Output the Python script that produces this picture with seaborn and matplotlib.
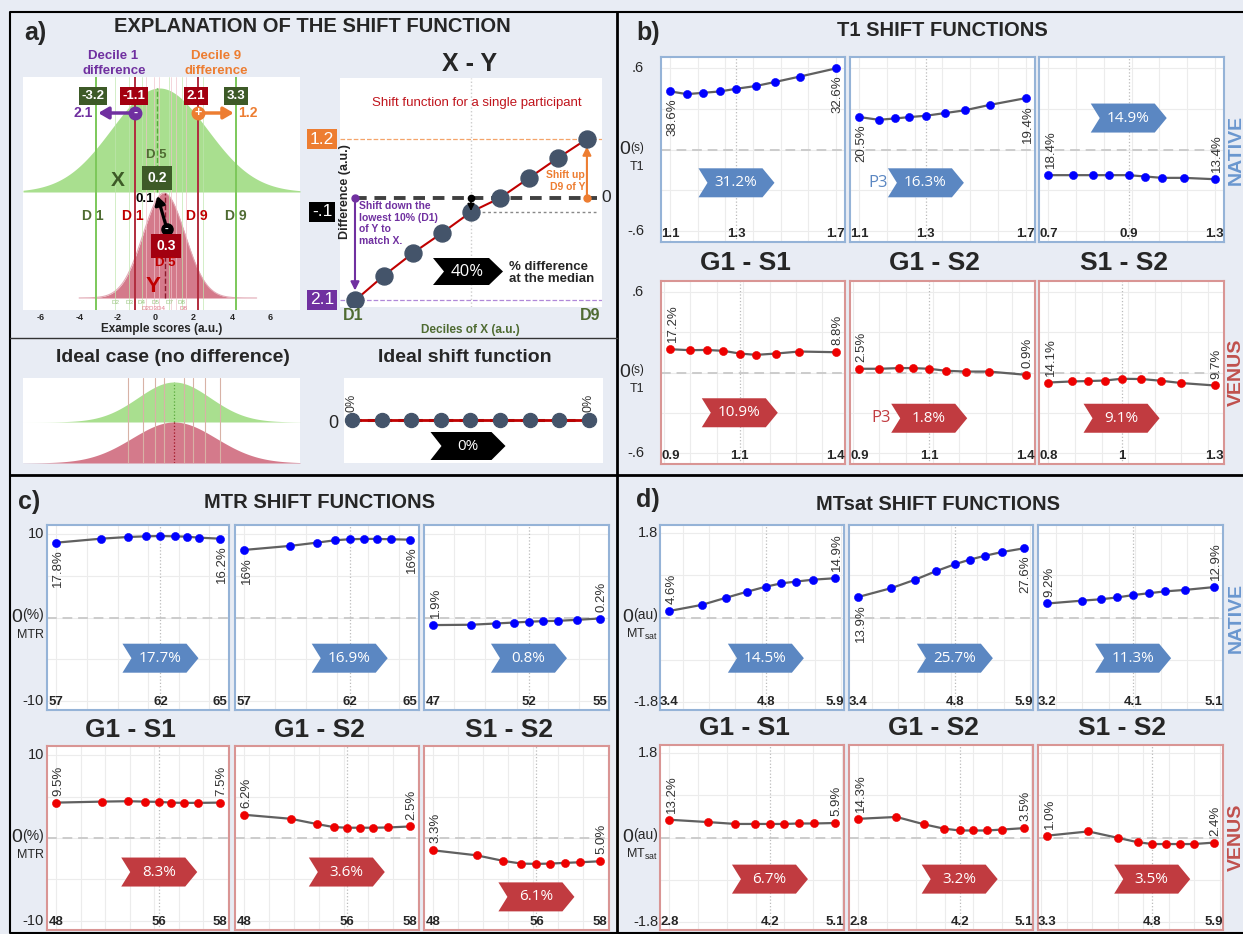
import numpy as np
import matplotlib
matplotlib.use("Agg")
import matplotlib.pyplot as plt
import matplotlib.transforms as mtrans
from matplotlib.patches import Polygon
from matplotlib.lines import Line2D
from matplotlib.ticker import MaxNLocator
import seaborn as sns

sns.set_style("white")
plt.rcParams['font.family'] = ['Liberation Sans', 'DejaVu Sans']
plt.rcParams['mathtext.fontset'] = 'custom'
plt.rcParams['mathtext.rm'] = 'Liberation Sans'
plt.rcParams['axes.unicode_minus'] = False

#--------------------------------------------------------------------------------------------------
# panel a (schematic)
X_MEAN, X_SD = 0.2, 2.5
Y_MEAN, Y_SD = 0.45, 1.1
X_DECILES = [-3.1, -2.1, -1.4, -0.7, 0.1, 0.7, 1.4, 2.5, 4.2]
Y_DECILES = [-1.05, -0.5, -0.1, 0.2, 0.5, 0.8, 1.1, 1.6, 2.25]
DECILE_IDX = [1, 2, 3, 4, 5, 6, 7, 8, 9]
SHIFT_VALUES = [-2.05, -1.55, -1.1, -0.7, -0.28, 0.0, 0.4, 0.8, 1.18]
IDEAL_SHIFT = [0, 0, 0, 0, 0, 0, 0, 0, 0]
IDEAL_DECILES = [-2.4, -1.6, -1.0, -0.5, 0.0, 0.5, 1.0, 1.6, 2.4]
IDEAL_SD_X, IDEAL_SD_Y = 1.9, 2.2

# panel b: T1
T1_NATIVE_X = [[1.10, 1.16, 1.22, 1.28, 1.34, 1.41, 1.48, 1.57, 1.70],
               [1.10, 1.17, 1.23, 1.28, 1.34, 1.41, 1.48, 1.57, 1.70],
               [0.70, 0.79, 0.86, 0.92, 0.99, 1.05, 1.11, 1.19, 1.30]]
T1_NATIVE_DIFF = [[0.43, 0.41, 0.42, 0.43, 0.45, 0.47, 0.50, 0.54, 0.60],
                  [0.24, 0.22, 0.23, 0.24, 0.25, 0.27, 0.29, 0.33, 0.38],
                  [-0.19, -0.19, -0.19, -0.19, -0.19, -0.20, -0.21, -0.21, -0.22]]
T1_NATIVE_END = [("38.6%", "32.6%"), ("20.5%", "19.4%"), ("18.4%", "13.4%")]
T1_NATIVE_MED = ["31.2%", "16.3%", "14.9%"]
T1_NATIVE_TICKS = [("1.1", "1.3", "1.7"), ("1.1", "1.3", "1.7"), ("0.7", "0.9", "1.3")]

T1_VENUS_X = [[0.90, 0.96, 1.01, 1.06, 1.11, 1.16, 1.22, 1.29, 1.40],
              [0.90, 0.96, 1.02, 1.06, 1.11, 1.16, 1.22, 1.29, 1.40],
              [0.80, 0.87, 0.92, 0.97, 1.02, 1.08, 1.14, 1.20, 1.30]]
T1_VENUS_DIFF = [[0.174, 0.167, 0.169, 0.162, 0.142, 0.132, 0.142, 0.157, 0.152],
                 [0.028, 0.028, 0.033, 0.033, 0.028, 0.013, 0.007, 0.007, -0.017],
                 [-0.075, -0.067, -0.064, -0.060, -0.047, -0.049, -0.062, -0.079, -0.097]]
T1_VENUS_END = [("17.2%", "8.8%"), ("2.5%", "0.9%"), ("14.1%", "9.7%")]
T1_VENUS_MED = ["10.9%", "1.8%", "9.1%"]
T1_VENUS_TICKS = [("0.9", "1.1", "1.4"), ("0.9", "1.1", "1.4"), ("0.8", "1", "1.3")]

# panel c: MTR
MTR_NATIVE_X = [[57.0, 59.2, 60.5, 61.4, 62.1, 62.8, 63.4, 64.0, 65.0],
                [57.0, 59.2, 60.5, 61.4, 62.1, 62.8, 63.4, 64.1, 65.0],
                [47.0, 48.8, 50.0, 50.9, 51.6, 52.3, 53.0, 53.9, 55.0]]
MTR_NATIVE_DIFF = [[8.98, 9.46, 9.66, 9.74, 9.78, 9.74, 9.70, 9.58, 9.46],
                   [8.11, 8.59, 8.98, 9.27, 9.39, 9.43, 9.43, 9.39, 9.34],
                   [-0.91, -0.87, -0.72, -0.60, -0.51, -0.43, -0.40, -0.28, -0.12]]
MTR_NATIVE_END = [("17.8%", "16.2%"), ("16%", "16%"), ("1.9%", "0.2%")]
MTR_NATIVE_MED = ["17.7%", "16.9%", "0.8%"]
MTR_NATIVE_TICKS = [("57", "62", "65"), ("57", "62", "65"), ("47", "52", "55")]

MTR_VENUS_X = [[48.0, 50.8, 52.4, 53.4, 54.3, 55.0, 55.8, 56.7, 58.0],
               [48.0, 50.8, 52.4, 53.4, 54.2, 55.0, 55.8, 56.7, 58.0],
               [48.0, 50.6, 52.2, 53.3, 54.2, 55.0, 55.9, 56.8, 58.0]]
MTR_VENUS_DIFF = [[4.27, 4.39, 4.44, 4.39, 4.36, 4.27, 4.24, 4.24, 4.27],
                  [2.80, 2.32, 1.68, 1.32, 1.24, 1.24, 1.24, 1.27, 1.39],
                  [-1.49, -2.09, -2.76, -3.09, -3.12, -3.09, -3.00, -2.93, -2.81]]
MTR_VENUS_END = [("9.5%", "7.5%"), ("6.2%", "2.5%"), ("3.3%", "5.0%")]
MTR_VENUS_MED = ["8.3%", "3.6%", "6.1%"]
MTR_VENUS_TICKS = [("48", "56", "58"), ("48", "56", "58"), ("48", "56", "58")]

# panel d: MTsat
MTSAT_NATIVE_X = [[3.40, 3.89, 4.25, 4.57, 4.86, 5.09, 5.32, 5.58, 5.90],
                  [3.40, 3.90, 4.26, 4.57, 4.86, 5.09, 5.31, 5.57, 5.90],
                  [3.20, 3.59, 3.81, 4.00, 4.18, 4.36, 4.55, 4.77, 5.10]]
MTSAT_NATIVE_DIFF = [[0.14, 0.27, 0.42, 0.55, 0.66, 0.73, 0.77, 0.81, 0.84],
                     [0.44, 0.63, 0.81, 0.99, 1.14, 1.24, 1.32, 1.40, 1.48],
                     [0.30, 0.36, 0.39, 0.43, 0.48, 0.52, 0.56, 0.59, 0.65]]
MTSAT_NATIVE_END = [("4.6%", "14.9%"), ("13.9%", "27.6%"), ("9.2%", "12.9%")]
MTSAT_NATIVE_MED = ["14.5%", "25.7%", "11.3%"]
MTSAT_NATIVE_TICKS = [("3.4", "4.8", "5.9"), ("3.4", "4.8", "5.9"), ("3.2", "4.1", "5.1")]

MTSAT_VENUS_X = [[2.80, 3.34, 3.72, 3.99, 4.20, 4.40, 4.60, 4.81, 5.10],
                 [2.80, 3.33, 3.72, 3.99, 4.21, 4.39, 4.59, 4.80, 5.10],
                 [3.30, 3.94, 4.41, 4.71, 4.94, 5.16, 5.37, 5.59, 5.90]]
MTSAT_VENUS_DIFF = [[0.38, 0.33, 0.29, 0.29, 0.29, 0.29, 0.30, 0.30, 0.31],
                    [0.40, 0.44, 0.28, 0.19, 0.15, 0.15, 0.15, 0.17, 0.20],
                    [0.04, 0.13, -0.01, -0.10, -0.14, -0.14, -0.14, -0.14, -0.11]]
MTSAT_VENUS_END = [("13.2%", "5.9%"), ("14.3%", "3.5%"), ("1.0%", "2.4%")]
MTSAT_VENUS_MED = ["6.7%", "3.2%", "3.5%"]
MTSAT_VENUS_TICKS = [("2.8", "4.2", "5.1"), ("2.8", "4.2", "5.1"), ("3.3", "4.8", "5.9")]

COMPARISONS = ["G1 - S1", "G1 - S2", "S1 - S2"]

#--------------------------------------------------------------------------------------------------
BG = '#e8ecf4'
GREEN_FILL = '#a9df8f'
GREEN_LINE = '#7cc85a'
DKGREEN = '#3d5a27'
GREEN_TXT = '#4f6b32'
RED_FILL = '#d47a8b'
RED_LINE = '#b22c3e'
DKRED = '#a30010'
RED_TXT = '#c00000'
PURPLE = '#7030a0'
ORANGE = '#ed7d31'
SLATE = '#44546a'
NAT_BLUE = '#5b87c2'
VEN_RED = '#c13b40'

W, H = 1243, 934
fig = plt.figure(figsize=(W / 100, H / 100), dpi=100)
fig.patch.set_facecolor(BG)
renderer = fig.canvas.get_renderer()


def add_ax(x0, y0, x1, y1):
    ax = fig.add_axes([x0 / W, 1 - y1 / H, (x1 - x0) / W, (y1 - y0) / H])
    ax.set_facecolor('white')
    return ax


def ftext(px, py, s, **kw):
    kw.setdefault('ha', 'center')
    kw.setdefault('va', 'center')
    return fig.text(px / W, 1 - py / H, s, **kw)


def fbox(px, py, s, fc, fs=9.5, pad=0.2, weight='bold'):
    ftext(px, py, s, color='white', fontsize=fs, fontweight=weight,
          bbox=dict(boxstyle='square,pad=%s' % pad, fc=fc, ec='none'))


def fline(xs, ys, **kw):
    fig.add_artist(Line2D([x / W for x in xs], [1 - y / H for y in ys],
                          transform=fig.transFigure, **kw))


def chevron(cx, cy, w, h, color, label, fs=11, notch=9, tip=12):
    x0, x1 = cx - w / 2, cx + w / 2
    pts = [(x0, cy - h / 2), (x1 - tip, cy - h / 2), (x1, cy),
           (x1 - tip, cy + h / 2), (x0, cy + h / 2), (x0 + notch, cy)]
    fig.add_artist(Polygon([(x / W, 1 - y / H) for x, y in pts], closed=True,
                           transform=fig.transFigure, fc=color, ec='none', zorder=6))
    ftext(cx + (notch - tip) / 2 + 1, cy, label, color='white', fontsize=fs,
          family=['Open Sans', 'DejaVu Sans'], zorder=7)


def hide_spines(ax):
    for s in ax.spines.values():
        s.set_visible(False)


#--------------------------------------------------------------------------------------------------
# panel a, top left: the two distributions
axd = add_ax(23, 77, 300, 310)
axd.set_xlim(-6.94, 7.57)
axd.set_ylim(0, 2.33)
hide_spines(axd)
X_BASE, X_PEAK, Y_BASE, Y_PEAK = 1.18, 1.04, 0.12, 1.05
gx = np.linspace(-6.94, 7.57, 500)
gy = X_BASE + X_PEAK * np.exp(-0.5 * ((gx - X_MEAN) / X_SD) ** 2)
axd.fill_between(gx, X_BASE, gy, color=GREEN_FILL, lw=0, zorder=1)
rx = np.linspace(-4.0, 5.3, 400)
ry = Y_BASE + Y_PEAK * np.exp(-0.5 * ((rx - Y_MEAN) / Y_SD) ** 2)
axd.fill_between(rx, Y_BASE, ry, color=RED_FILL, lw=0, zorder=1)
axd.plot(rx, ry, color='#e2aab5', lw=0.8, zorder=1)
for i, d in enumerate(X_DECILES):
    if i in (0, 8):
        axd.axvline(d, color=GREEN_LINE, lw=1.4, zorder=3)
    elif i == 4:
        axd.plot([d, d], [X_BASE, X_BASE + X_PEAK], color='#58a83a', ls='--', lw=1, zorder=3)
    else:
        axd.axvline(d, color='#bfe6ae', lw=0.6, alpha=0.8, zorder=2)
for i, d in enumerate(Y_DECILES):
    if i in (0, 8):
        axd.axvline(d, color=RED_LINE, lw=1.4, zorder=3)
    elif i == 4:
        axd.plot([d, d], [Y_BASE, Y_BASE + Y_PEAK], color='#8b1a2b', ls='--', lw=1, zorder=3)
    else:
        axd.axvline(d, color='#efc3cb', lw=0.6, alpha=0.8, zorder=2)
axd.set_xticks(range(-6, 7, 2))
axd.set_xticklabels([str(v) for v in range(-6, 7, 2)], fontsize=6.5, fontweight='bold')
axd.set_yticks([])
axd.tick_params(axis='x', length=0, pad=2)
axd.set_xlabel('Example scores (a.u.)', fontsize=8.5, fontweight='bold', labelpad=1)

ARR_Y = 1.97
axd.annotate('', xy=(X_DECILES[0] + 0.1, ARR_Y), xytext=(Y_DECILES[0], ARR_Y),
             arrowprops=dict(arrowstyle='-|>,head_length=0.6,head_width=0.35', color=PURPLE,
                             lw=2.5, shrinkA=0, shrinkB=0), zorder=5)
axd.annotate('', xy=(X_DECILES[8] - 0.1, ARR_Y), xytext=(Y_DECILES[8], ARR_Y),
             arrowprops=dict(arrowstyle='-|>,head_length=0.6,head_width=0.35', color=ORANGE,
                             lw=2.5, shrinkA=0, shrinkB=0), zorder=5)
axd.plot(Y_DECILES[0], ARR_Y, 'o', ms=9, color=PURPLE, zorder=6)
axd.text(Y_DECILES[0], ARR_Y, '-', color='white', ha='center', va='center', fontsize=9,
         fontweight='bold', zorder=7)
axd.plot(Y_DECILES[8], ARR_Y, 'o', ms=9, color=ORANGE, zorder=6)
axd.text(Y_DECILES[8], ARR_Y, '+', color='white', ha='center', va='center', fontsize=9,
         fontweight='bold', zorder=7)
axd.annotate('', xy=(X_DECILES[4], 1.14), xytext=(Y_DECILES[4] + 0.1, 0.81),
             arrowprops=dict(arrowstyle='-|>,head_length=0.5,head_width=0.3', color='black',
                             lw=2.3, shrinkA=0, shrinkB=0), zorder=5)
axd.plot(Y_DECILES[4] + 0.1, 0.81, 'o', ms=8, color='black', zorder=6)
axd.text(Y_DECILES[4] + 0.1, 0.81, '-', color='white', ha='center', va='center', fontsize=8,
         fontweight='bold', zorder=7)

ftext(113, 56, 'Decile 1', color=PURPLE, fontsize=9.5, fontweight='bold')
ftext(114, 71, 'difference', color=PURPLE, fontsize=9.5, fontweight='bold')
ftext(216, 56, 'Decile 9', color=ORANGE, fontsize=9.5, fontweight='bold')
ftext(216, 71, 'difference', color=ORANGE, fontsize=9.5, fontweight='bold')
fbox(93, 96, '-3.2', DKGREEN)
fbox(134, 96, '-1.1', DKRED)
fbox(196, 96, '2.1', DKRED)
fbox(236, 96, '3.3', DKGREEN)
ftext(83, 113, '2.1', color=PURPLE, fontsize=10, fontweight='bold')
ftext(248, 113, '1.2', color=ORANGE, fontsize=10, fontweight='bold')
ftext(156, 155, 'D 5', color=GREEN_TXT, fontsize=9.5, fontweight='bold')
ftext(118, 181, 'X', color=DKGREEN, fontsize=15, fontweight='bold')
fbox(157, 178, '0.2', DKGREEN, fs=10, pad=0.35)
ftext(145, 199, '0.1', color='black', fontsize=9.5, fontweight='bold')
ftext(93, 216, 'D 1', color=GREEN_TXT, fontsize=10, fontweight='bold')
ftext(133, 216, 'D 1', color=RED_TXT, fontsize=10, fontweight='bold')
ftext(197, 216, 'D 9', color=RED_TXT, fontsize=10, fontweight='bold')
ftext(236, 216, 'D 9', color=GREEN_TXT, fontsize=10, fontweight='bold')
fbox(166, 246, '0.3', DKRED, fs=10, pad=0.35)
ftext(165, 263, 'D 5', color=RED_TXT, fontsize=9.5, fontweight='bold')
ftext(153, 287, 'Y', color=RED_TXT, fontsize=16, fontweight='bold')
for lab, px in zip(['D2', 'D3', 'D4', 'D5', 'D7', 'D8'], [115, 129, 142, 156, 170, 182]):
    ftext(px, 302, lab, color='#98c47e', fontsize=4.5)
ftext(154, 308, 'D2D3D4', color='#e07a8a', fontsize=4.5)
ftext(183, 308, 'D8', color='#e07a8a', fontsize=4.5)

# panel a, top right: single participant shift function
axs = add_ax(340, 78, 602, 307)
hide_spines(axs)
axs.axvline(DECILE_IDX[4], color='#cccccc', lw=1, ls=':', zorder=0)
axs.axhline(SHIFT_VALUES[-1], color='#f4a46a', lw=0.9, ls='--', zorder=0)
axs.axhline(SHIFT_VALUES[0], color='#b088d8', lw=0.9, ls='--', zorder=0)
axs.plot([DECILE_IDX[0], DECILE_IDX[-1] + 0.35], [0, 0], color='#404040', lw=2.8,
         dashes=(3, 2), zorder=1)
axs.plot([DECILE_IDX[4], DECILE_IDX[-1] + 0.35], [SHIFT_VALUES[4]] * 2, color='#888888',
         lw=1, ls=(0, (2, 2)), zorder=1)
sns.lineplot(x=DECILE_IDX, y=SHIFT_VALUES, ax=axs, color='#c00000', lw=1.5, zorder=2)
sns.scatterplot(x=DECILE_IDX, y=SHIFT_VALUES, ax=axs, color=SLATE, s=150, edgecolor=SLATE,
                zorder=4)
axs.annotate('', xy=(DECILE_IDX[0], SHIFT_VALUES[0] + 0.2), xytext=(DECILE_IDX[0], 0),
             arrowprops=dict(arrowstyle='-|>,head_length=0.5,head_width=0.25', color=PURPLE,
                             lw=1.5, shrinkA=0, shrinkB=0), zorder=3)
axs.plot(DECILE_IDX[0], 0, 'o', ms=5, color=PURPLE, zorder=3)
axs.annotate('', xy=(DECILE_IDX[-1], SHIFT_VALUES[-1] - 0.15), xytext=(DECILE_IDX[-1], 0),
             arrowprops=dict(arrowstyle='-|>,head_length=0.5,head_width=0.25', color=ORANGE,
                             lw=1.5, shrinkA=0, shrinkB=0), zorder=3)
axs.plot(DECILE_IDX[-1], 0, 'o', ms=5, color=ORANGE, zorder=3)
axs.annotate('', xy=(DECILE_IDX[4], SHIFT_VALUES[4] + 0.02), xytext=(DECILE_IDX[4], 0),
             arrowprops=dict(arrowstyle='-|>,head_length=0.4,head_width=0.2', color='black',
                             lw=1.2, shrinkA=0, shrinkB=0), zorder=5)
axs.plot(DECILE_IDX[4], 0, 'o', ms=4.5, color='black', zorder=5)
axs.set_xlim(0.483, 9.52)
axs.set_ylim(-2.18, 2.4)
axs.set_xticks([])
axs.set_yticks([])

ftext(470, 64, 'X - Y', fontsize=18, fontweight='bold')
ftext(477, 103, 'Shift function for a single participant', color='#c0141c', fontsize=9.5)
fbox(322, 139, '1.2', ORANGE, fs=12.5, pad=0.15, weight='normal')
fbox(322, 212, '-.1', 'black', fs=12.5, pad=0.15, weight='normal')
fbox(322, 300, '2.1', PURPLE, fs=12.5, pad=0.15, weight='normal')
ftext(606, 197, '0', fontsize=12.5)
ftext(345, 192, 'Difference (a.u.)', rotation=90, fontsize=9, fontweight='bold')
ftext(359, 201, 'Shift down the\nlowest 10% (D1)\nof Y to\nmatch X.', ha='left', va='top',
      color=PURPLE, fontsize=7.5, fontweight='bold')
ftext(585, 181, 'Shift up\nD9 of Y', ha='right', color=ORANGE, fontsize=7.5,
      fontweight='bold')
chevron(468, 271.5, 70, 27, 'black', '40%', fs=12, notch=11, tip=14)
ftext(509, 273, '% difference\nat the median', ha='left', fontsize=9.5, fontweight='bold',
      linespacing=1.1)
ftext(353, 316, 'D1', color=GREEN_TXT, fontsize=11.5, fontweight='bold')
ftext(590, 316, 'D9', color=GREEN_TXT, fontsize=11.5, fontweight='bold')
ftext(470, 330, 'Deciles of X (a.u.)', color=GREEN_TXT, fontsize=8.5, fontweight='bold')

# panel a, bottom: ideal case
ftext(173, 358, 'Ideal case (no difference)', fontsize=14, fontweight='bold')
ftext(465, 358, 'Ideal shift function', fontsize=14, fontweight='bold')
axi = add_ax(23, 378, 300, 463)
hide_spines(axi)
ix = np.linspace(-7.91, 6.6, 500)
axi.fill_between(ix, 4.1, 4.1 + 4.0 * np.exp(-0.5 * (ix / IDEAL_SD_X) ** 2),
                 color=GREEN_FILL, lw=0, zorder=1)
axi.fill_between(ix, 0, 4.1 * np.exp(-0.5 * (ix / IDEAL_SD_Y) ** 2),
                 color=RED_FILL, lw=0, zorder=1)
for i, d in enumerate(IDEAL_DECILES):
    if i == 4:
        axi.plot([d, d], [4.1, 8.1], color='#58a83a', ls=':', lw=0.9, zorder=2)
        axi.plot([d, d], [0, 4.1], color='#a01020', ls=':', lw=0.9, zorder=2)
    else:
        axi.axvline(d, color='#d8b2a6', lw=0.8, zorder=2)
axi.set_xlim(-7.91, 6.6)
axi.set_ylim(0, 8.5)
axi.set_xticks([])
axi.set_yticks([])

axf = add_ax(344, 378, 603, 463)
hide_spines(axf)
axf.plot([DECILE_IDX[0], DECILE_IDX[-1]], [0, 0], color='#404040', lw=2.2, dashes=(3, 2),
         zorder=1)
sns.lineplot(x=DECILE_IDX, y=IDEAL_SHIFT, ax=axf, color='#c00000', lw=2, zorder=2)
sns.scatterplot(x=DECILE_IDX, y=IDEAL_SHIFT, ax=axf, color=SLATE, s=105, edgecolor=SLATE,
                zorder=4)
for i in (0, 8):
    axf.annotate('0%', (DECILE_IDX[i], IDEAL_SHIFT[i]), xytext=(0, 6),
                 textcoords='offset points', rotation=90, ha='center', va='bottom',
                 fontsize=9, color='#333333')
axf.set_xlim(0.73, 9.48)
axf.set_ylim(-0.86, 0.84)
axf.set_xticks([])
axf.set_yticks([])
ftext(333, 423, '0', fontsize=13)
chevron(468, 446, 75, 28, 'black', '0%', fs=11, notch=11, tip=14)

#--------------------------------------------------------------------------------------------------
# panels b, c, d: shift functions of the three maps
RIGHT_COLS = [(661, 845), (850, 1035), (1039, 1224)]
LEFT_COLS = [(47, 229), (235, 419), (424, 609)]

PANELS = [
    dict(cols=RIGHT_COLS, rows=[(57, 242), (281, 464)],
         x=[T1_NATIVE_X, T1_VENUS_X], d=[T1_NATIVE_DIFF, T1_VENUS_DIFF],
         end=[T1_NATIVE_END, T1_VENUS_END], med=[T1_NATIVE_MED, T1_VENUS_MED],
         ticks=[T1_NATIVE_TICKS, T1_VENUS_TICKS],
         tick=0.6, ylim=0.685, top='.6', bot='-.6', unit='(s)', ufs=8.5, sub='T1', dx=-17,
         chev=[[0.32, 0.32, 0.67], [0.28, 0.25, 0.25]],
         above=[[False, False, True], [True, True, True]],
         p3=[False, True, False], rowlab=True, title_y=263),
    dict(cols=LEFT_COLS, rows=[(525, 710), (746, 930)],
         x=[MTR_NATIVE_X, MTR_VENUS_X], d=[MTR_NATIVE_DIFF, MTR_VENUS_DIFF],
         end=[MTR_NATIVE_END, MTR_VENUS_END], med=[MTR_NATIVE_MED, MTR_VENUS_MED],
         ticks=[MTR_NATIVE_TICKS, MTR_VENUS_TICKS],
         tick=10, ylim=11.1, top='10', bot='-10', unit='(%)', ufs=10, sub='MTR', dx=-3,
         chev=[[0.28, 0.28, 0.28], [0.315, 0.315, 0.18]],
         above=[[False, False, True], [True, True, True]],
         p3=[False, False, False], rowlab=False, title_y=730),
    dict(cols=[(660, 844), (849, 1033), (1038, 1223)], rows=[(525, 710), (745, 930)],
         x=[MTSAT_NATIVE_X, MTSAT_VENUS_X], d=[MTSAT_NATIVE_DIFF, MTSAT_VENUS_DIFF],
         end=[MTSAT_NATIVE_END, MTSAT_VENUS_END], med=[MTSAT_NATIVE_MED, MTSAT_VENUS_MED],
         ticks=[MTSAT_NATIVE_TICKS, MTSAT_VENUS_TICKS],
         tick=1.8, ylim=1.98, top='1.8', bot='-1.8', unit='(au)', ufs=10,
         sub=r'MT$_\mathregular{sat}$', dx=-2,
         chev=[[0.28, 0.28, 0.28], [0.275, 0.275, 0.275]],
         above=[[True, False, True], [True, True, True]],
         p3=[False, False, False], rowlab=True, title_y=728),
]

for P in PANELS:
    for r in range(2):
        pcol = '#0000ff' if r == 0 else '#ee0000'
        scol = '#95b3d7' if r == 0 else '#d99594'
        ccol = NAT_BLUE if r == 0 else VEN_RED
        y0, y1 = P['rows'][r]
        for c in range(3):
            x0, x1 = P['cols'][c]
            ax = add_ax(x0, y0, x1, y1)
            xs = P['x'][r][c]
            ds = P['d'][r][c]
            yl = P['tick']
            ax.axhline(0, color='#cccccc', lw=1.4, ls=(0, (5, 3)), zorder=1)
            ax.axvline(xs[4], color='#bbbbbb', lw=0.9, ls=':', zorder=1)
            sns.lineplot(x=xs, y=ds, ax=ax, color='#606060', lw=1.6, zorder=2)
            sns.scatterplot(x=xs, y=ds, ax=ax, color=pcol, s=34, edgecolor=pcol,
                            linewidth=0.4, zorder=3)
            span = xs[-1] - xs[0]
            ax.set_xlim(xs[0] - 0.057 * span, xs[-1] + 0.057 * span)
            ax.set_ylim(-P['ylim'], P['ylim'])
            ax.xaxis.set_major_locator(MaxNLocator(8))
            ax.set_yticks([-yl, -yl / 2, 0, yl / 2, yl])
            ax.grid(True, color='#ececec', lw=0.8)
            ax.set_axisbelow(True)
            ax.tick_params(length=0, labelbottom=False, labelleft=False)
            for s in ax.spines.values():
                s.set_color(scol)
                s.set_linewidth(1.5)

            up = P['above'][r][c]
            for i, txt in ((0, P['end'][r][c][0]), (8, P['end'][r][c][1])):
                ax.annotate(txt, (xs[i], ds[i]), xytext=(1.5, 5 if up else -5),
                            textcoords='offset points', rotation=90, ha='center',
                            va='bottom' if up else 'top', fontsize=9.5, color='#333333',
                            annotation_clip=False)
            trans = mtrans.blended_transform_factory(ax.transData, ax.transAxes)
            for i, t in zip((0, 4, 8), P['ticks'][r][c]):
                ax.annotate(t, (xs[i], 0), xycoords=trans, xytext=(0, 1.5),
                            textcoords='offset points', ha='center', va='bottom',
                            fontsize=9.5, fontweight='bold')

            if c == 0:
                kw = dict(xycoords=('axes fraction', 'data'), textcoords='offset pixels',
                          ha='right', va='center')
                ax.annotate(P['top'], (0, yl), xytext=(P['dx'], 0), fontsize=10.5, **kw)
                ax.annotate(P['bot'], (0, -yl), xytext=(P['dx'], 0), fontsize=10.5, **kw)
                u = ax.annotate(P['unit'], (0, 0), xytext=(P['dx'], 2), fontsize=P['ufs'], **kw)
                uw = u.get_window_extent(renderer).width
                ax.annotate('0', (0, 0), xytext=(P['dx'] - uw, 0), fontsize=14, **kw)
                ax.annotate(P['sub'], (0, 0), xytext=(P['dx'], -17), fontsize=9, **kw)

            cx = ax.transData.transform((xs[4], 0))[0]
            cy = y1 - P['chev'][r][c] * (y1 - y0)
            chevron(cx, cy, 76, 29, ccol, P['med'][r][c])
            if P['p3'][c]:
                ftext(cx - 48, cy, 'P3', color=ccol, fontsize=12,
                      family=['Open Sans', 'DejaVu Sans'])
            if r == 1:
                ftext((x0 + x1) / 2 - 8, P['title_y'], COMPARISONS[c], fontsize=19,
                      fontweight='bold')
        if P['rowlab']:
            ftext(1236, (y0 + y1) / 2, 'NATIVE' if r == 0 else 'VENUS', rotation=90,
                  fontsize=14, fontweight='bold', color='#6a97cf' if r == 0 else '#c0504d')

#--------------------------------------------------------------------------------------------------
# titles, panel letters and frame
ftext(35, 33, 'a)', fontsize=18, fontweight='bold')
ftext(648, 33, 'b)', fontsize=18, fontweight='bold')
ftext(29, 502, 'c)', fontsize=18, fontweight='bold')
ftext(648, 500, 'd)', fontsize=18, fontweight='bold')
ftext(312, 26, 'EXPLANATION OF THE SHIFT FUNCTION', fontsize=14.5, fontweight='bold')
ftext(942, 30, 'T1 SHIFT FUNCTIONS', fontsize=14.5, fontweight='bold')
ftext(319, 503, 'MTR SHIFT FUNCTIONS', fontsize=14.5, fontweight='bold')
ftext(938, 505, 'MTsat SHIFT FUNCTIONS', fontsize=14.5, fontweight='bold')

fline([1243, 10, 10, 1243], [12, 12, 933, 933], color='black', lw=1.5)
fline([617, 617], [12, 933], color='black', lw=2)
fline([10, 1243], [475, 475], color='black', lw=2)
fline([10, 617], [338, 338], color='#333333', lw=1)

fig.savefig('out.png', dpi=100, facecolor=BG)
